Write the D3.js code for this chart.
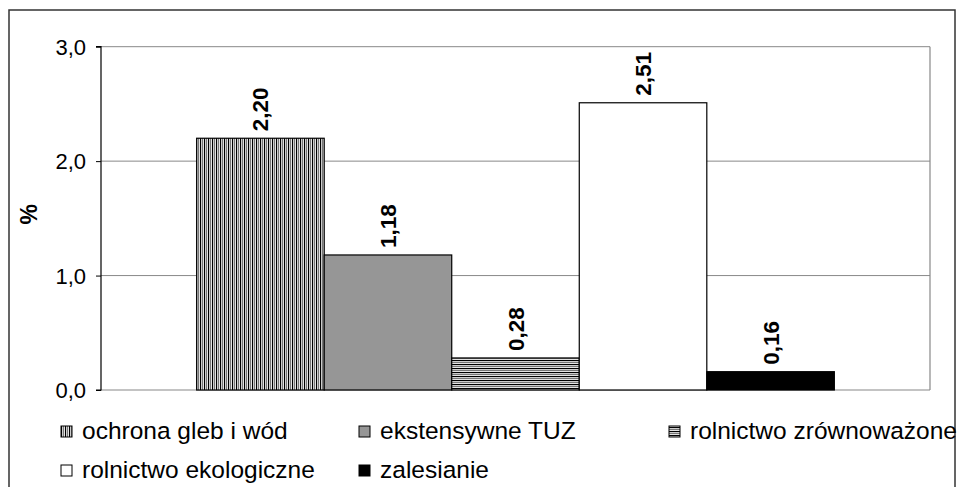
<!DOCTYPE html>
<html><head><meta charset="utf-8">
<script src="https://cdn.jsdelivr.net/npm/d3@7"></script>
<style>body{margin:0;background:#fff}svg{display:block}</style>
</head><body>
<script>
const seriesNames = ["ochrona gleb i wód","ekstensywne TUZ","rolnictwo zrównoważone","rolnictwo ekologiczne","zalesianie"];
const seriesValues = [2.20, 1.18, 0.28, 2.51, 0.16];
const yTicks = [0, 1, 2, 3];
const fills = ["url(#vstripe)","#969696","url(#hstripe)","#ffffff","#000000"];

const W = 964, H = 487;
const FONT = "Liberation Sans, Arial, sans-serif";
const svg = d3.select("body").append("svg").attr("width", W).attr("height", H);
const defs = svg.append("defs");
const vp = defs.append("pattern").attr("id","vstripe").attr("patternUnits","userSpaceOnUse").attr("width",4).attr("height",4);
vp.append("rect").attr("width",4).attr("height",4).attr("fill","#fff");
vp.append("rect").attr("x",0).attr("width",1.2).attr("height",4).attr("fill","#000");
vp.append("rect").attr("x",2).attr("width",1.2).attr("height",4).attr("fill","#777");
const hp = defs.append("pattern").attr("id","hstripe").attr("patternUnits","userSpaceOnUse").attr("width",4).attr("height",4);
hp.append("rect").attr("width",4).attr("height",4).attr("fill","#fff");
hp.append("rect").attr("y",0).attr("width",4).attr("height",1.2).attr("fill","#000");
hp.append("rect").attr("y",2).attr("width",4).attr("height",1.2).attr("fill","#777");

// outer frame
svg.append("rect").attr("x",9).attr("y",10).attr("width",946).attr("height",490)
  .attr("fill","none").attr("stroke","#333").attr("stroke-width",1.5);

const L = 101, R = 930, T = 46.7, B = 390;
const y = d3.scaleLinear().domain([0,3]).range([B,T]);
// one category group: 5 bars, gap width 150% of a bar -> 0.75 bar each side
const step = (R-L)/(5+1.5);
const xb = d3.scaleBand().domain(seriesNames).range([L+0.75*step, R-0.75*step]).paddingInner(0);

// gridlines
svg.append("g").selectAll("line").data(yTicks.filter(d=>d>0)).join("line")
  .attr("x1",L).attr("x2",R).attr("y1",d=>y(d)).attr("y2",d=>y(d))
  .attr("stroke","#888").attr("stroke-width",1);
svg.append("line").attr("x1",R).attr("x2",R).attr("y1",y(3)).attr("y2",B).attr("stroke","#888").attr("stroke-width",1.2);
svg.append("line").attr("x1",L).attr("x2",R).attr("y1",B).attr("y2",B).attr("stroke","#888").attr("stroke-width",1.2);

// bars
svg.append("g").selectAll("rect").data(seriesValues).join("rect")
  .attr("x",(d,i)=>xb(seriesNames[i])).attr("width",xb.bandwidth())
  .attr("y",d=>y(d)).attr("height",d=>B-y(d))
  .attr("fill",(d,i)=>fills[i]).attr("stroke","#000").attr("stroke-width",1.2);

// y axis
const yAxis = d3.axisLeft(y).tickValues(yTicks).tickSize(5).tickPadding(10)
  .tickFormat(d=>d3.format(".1f")(d).replace(".",","));
const ga = svg.append("g").attr("transform",`translate(${L},0)`).call(yAxis);
ga.select(".domain").attr("stroke","#000").attr("stroke-width",1.2).attr("d",`M-5,${y(3)}H0V${B}H-5`);
ga.selectAll(".tick line").attr("stroke","#000");
ga.selectAll(".tick text").attr("font-family",FONT).attr("font-size",22).attr("fill","#000").attr("dy","0.34em");

// y title
svg.append("text").attr("transform",`translate(37,${y(1.5)-4}) rotate(-90)`)
  .attr("text-anchor","middle").attr("font-family",FONT)
  .attr("font-weight","bold").attr("font-size",23).text("%");

// data labels
svg.append("g").selectAll("text").data(seriesValues).join("text")
  .attr("transform",(d,i)=>`translate(${xb(seriesNames[i])+xb.bandwidth()/2+8},${y(d)-7}) rotate(-90)`)
  .attr("font-family",FONT).attr("font-weight","bold")
  .attr("font-size",22.5).attr("text-anchor","start")
  .text(d=>d3.format(".2f")(d).replace(".",","));

// legend
const legendPos = [[61,439],[359,439],[669,439],[61,478],[359,478]];
const lg = svg.append("g").selectAll("g").data(seriesNames).join("g")
  .attr("transform",(d,i)=>`translate(${legendPos[i][0]},${legendPos[i][1]})`);
lg.append("rect").attr("x",0).attr("y",-13).attr("width",11).attr("height",11)
  .attr("fill",(d,i)=>fills[i]).attr("stroke","#000").attr("stroke-width",1);
lg.append("text").attr("x",21).attr("y",0)
  .attr("font-family",FONT).attr("font-size",24.5).text(d=>d);
</script>
</body></html>
